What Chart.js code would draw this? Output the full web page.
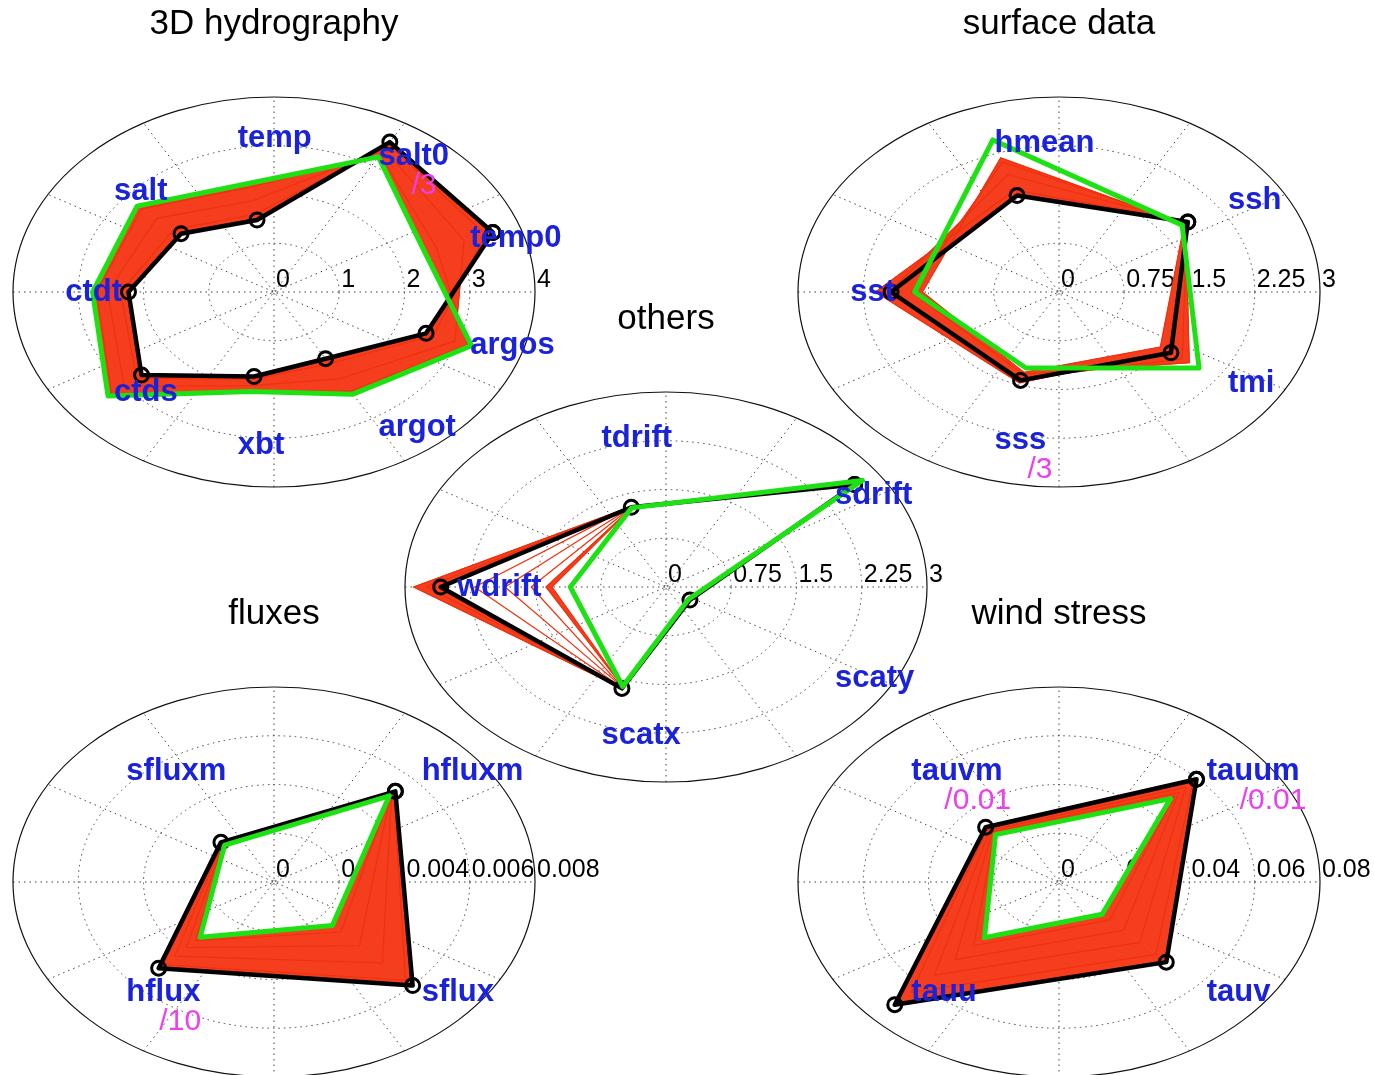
<!DOCTYPE html>
<html>
<head>
<meta charset="utf-8">
<script src="https://cdn.jsdelivr.net/npm/chart.js@4.4.0/dist/chart.umd.min.js"></script>
<style>
html, body { margin: 0; padding: 0; background: #fff; overflow: hidden; width: 1374px; height: 1075px; }
canvas { position: absolute; }
</style>
</head>
<body>
<canvas id="hydro"></canvas>
<canvas id="surface"></canvas>
<canvas id="fluxes"></canvas>
<canvas id="wind"></canvas>
<canvas id="others"></canvas>
<script>
// categories go counter-clockwise, the first one at 180/n degrees

// 3D hydrography
const hydroCats = ['temp0', 'salt0', 'temp', 'salt', 'ctdt', 'ctds', 'xbt', 'argot', 'argos'];
const hydroTicks = [0, 1, 2, 3, 4];
const hydroTickText = ['0', '1', '2', '3', '4'];
const hydroBlack = [3.57, 3.55, 1.50, 1.86, 2.23, 2.65, 1.76, 1.58, 2.48];
const hydroGreen = [2.45, 3.20, 2.26, 2.74, 2.78, 3.32, 2.07, 2.42, 3.22];
const hydroRed1 = [3.45, 3.50, 1.62, 2.00, 2.35, 2.75, 1.82, 1.70, 2.60];
const hydroRed2 = [3.10, 3.38, 1.90, 2.35, 2.55, 3.00, 1.95, 2.05, 2.95];
const hydroRed3 = [2.65, 3.25, 2.18, 2.65, 2.72, 3.25, 2.05, 2.35, 3.15];

// surface data
const surfCats = ['ssh', 'hmean', 'sst', 'sss', 'tmi'];
const surfTicks = [0, 0.75, 1.5, 2.25, 3];
const surfTickText = ['0', '0.75', '1.5', '2.25', '3'];
const surfBlack = [1.83, 1.56, 1.93, 1.43, 1.59];
const surfGreen = [1.75, 2.46, 1.66, 1.23, 1.99];
const surfRed1 = [1.85, 1.65, 2.11, 1.47, 1.55];
const surfRed2 = [1.82, 1.90, 1.95, 1.40, 1.75];
const surfRed3 = [1.80, 2.10, 1.70, 1.33, 1.85];
const surfRed4 = [1.78, 2.17, 1.57, 1.30, 1.44];

// others
const othCats = ['sdrift', 'tdrift', 'wdrift', 'scatx', 'scaty'];
const othTicks = [0, 0.75, 1.5, 2.25, 3];
const othTickText = ['0', '0.75', '1.5', '2.25', '3'];
const othBlack = [2.68, 1.29, 2.59, 1.64, 0.34];
const othGreen = [2.79, 1.28, 1.10, 1.61, 0.32];
const othRed1 = [2.70, 1.30, 2.90, 1.64, 0.34];
const othRed2 = [2.70, 1.30, 2.75, 1.63, 0.34];
const othRed3 = [2.69, 1.30, 2.20, 1.63, 0.34];
const othRed4 = [2.70, 1.29, 1.85, 1.62, 0.33];
const othRed5 = [2.71, 1.29, 1.55, 1.62, 0.33];
const othRed6 = [2.72, 1.28, 1.38, 1.61, 0.33];
const othRed7 = [2.72, 1.28, 1.31, 1.61, 0.33];

// fluxes
const fluxCats = ['hfluxm', 'sfluxm', 'hflux', 'sflux'];
const fluxTicks = [0, 0.002, 0.004, 0.006, 0.008];
const fluxTickText = ['0', '0.002', '0.004', '0.006', '0.008'];
const fluxBlack = [0.00526, 0.0023, 0.0050, 0.00601];
const fluxGreen = [0.0050, 0.00214, 0.0032, 0.00253];
const fluxRed1 = [0.0052, 0.00228, 0.0048, 0.0057];
const fluxRed2 = [0.0051, 0.00224, 0.0043, 0.0047];
const fluxRed3 = [0.00505, 0.0022, 0.0038, 0.0037];
const fluxRed4 = [0.00502, 0.00216, 0.0034, 0.0029];

// wind stress
const windCats = ['tauum', 'tauvm', 'tauu', 'tauv'];
const windTicks = [0, 0.02, 0.04, 0.06, 0.08];
const windTickText = ['0', '0.02', '0.04', '0.06', '0.08'];
const windBlack = [0.0596, 0.0318, 0.0712, 0.0465];
const windGreen = [0.0484, 0.0275, 0.0323, 0.0187];
const windRed1 = [0.058, 0.031, 0.064, 0.042];
const windRed2 = [0.055, 0.030, 0.054, 0.035];
const windRed3 = [0.052, 0.029, 0.045, 0.028];
const windRed4 = [0.050, 0.028, 0.037, 0.022];

const BLUE = 'rgb(26,34,218)';
const MAGENTA = 'rgb(236,64,236)';
const GREEN = 'rgb(30,225,20)';
const RED = 'rgb(240,48,12)';
const RED_FILL = 'rgb(244,62,30)';
const FONT = '"Liberation Sans", Arial, sans-serif';
const PAD = 100, RX = 261, RY = 195;

// values -> closed polygon in x/y data units
function polar(vals) {
    const n = vals.length;
    const pts = vals.map((r, k) => {
        const a = (2 * k + 1) * Math.PI / n;
        return {x: r * Math.cos(a), y: r * Math.sin(a)};
    });
    pts.push(pts[0]);
    return pts;
}

function polarPlugin(p) {
    return {
        id: 'polarGrid',
        beforeDatasetsDraw(chart) {
            const {ctx, scales: {x, y}} = chart;
            const cx = x.getPixelForValue(0), cy = y.getPixelForValue(0);
            const rmax = p.ticks[p.ticks.length - 1];
            const rx = x.getPixelForValue(rmax) - cx, ry = cy - y.getPixelForValue(rmax);
            ctx.save();
            // dotted spokes and circles
            ctx.strokeStyle = '#444';
            ctx.lineWidth = 1;
            ctx.setLineDash([1.5, 4]);
            for (let k = 0; k < 6; k++) {
                const a = k * Math.PI / 6;
                ctx.beginPath();
                ctx.moveTo(cx - rx * Math.cos(a), cy + ry * Math.sin(a));
                ctx.lineTo(cx + rx * Math.cos(a), cy - ry * Math.sin(a));
                ctx.stroke();
            }
            p.ticks.slice(1, -1).forEach(v => {
                ctx.beginPath();
                ctx.ellipse(cx, cy, x.getPixelForValue(v) - cx, cy - y.getPixelForValue(v), 0, 0, 2 * Math.PI);
                ctx.stroke();
            });
            ctx.setLineDash([]);
            ctx.strokeStyle = '#111';
            ctx.lineWidth = 1.2;
            ctx.beginPath();
            ctx.ellipse(cx, cy, rx, ry, 0, 0, 2 * Math.PI);
            ctx.stroke();

            // tick labels
            ctx.fillStyle = '#000';
            ctx.font = '25px ' + FONT;
            ctx.textAlign = 'left';
            ctx.textBaseline = 'alphabetic';
            p.ticks.forEach((v, i) => ctx.fillText(p.tickText[i], x.getPixelForValue(v) + 2, cy - 5));

            // red band between successive iterations
            ctx.fillStyle = RED_FILL;
            ctx.strokeStyle = RED_FILL;
            ctx.lineWidth = 0.8;
            p.bands.forEach(([a, b]) => {
                const A = polar(a).map(q => [x.getPixelForValue(q.x), y.getPixelForValue(q.y)]);
                const B = polar(b).map(q => [x.getPixelForValue(q.x), y.getPixelForValue(q.y)]);
                for (let k = 0; k < A.length - 1; k++) {
                    ctx.beginPath();
                    ctx.moveTo(A[k][0], A[k][1]);
                    ctx.lineTo(A[k + 1][0], A[k + 1][1]);
                    ctx.lineTo(B[k + 1][0], B[k + 1][1]);
                    ctx.lineTo(B[k][0], B[k][1]);
                    ctx.closePath();
                    ctx.fill();
                    ctx.stroke();
                }
            });
            ctx.restore();
        },
        afterDatasetsDraw(chart) {
            const {ctx, chartArea, scales: {x, y}} = chart;
            const n = p.cats.length;
            const rl = 0.8 * p.ticks[p.ticks.length - 1];
            ctx.save();
            ctx.textAlign = 'left';
            ctx.textBaseline = 'middle';
            p.cats.forEach((c, k) => {
                const a = (2 * k + 1) * Math.PI / n;
                const px = x.getPixelForValue(rl * Math.cos(a));
                const py = y.getPixelForValue(rl * Math.sin(a));
                ctx.font = 'bold 31px ' + FONT;
                ctx.fillStyle = BLUE;
                ctx.fillText(c, px, py);
                if (p.div[c]) {
                    ctx.font = '30px ' + FONT;
                    ctx.fillStyle = MAGENTA;
                    ctx.fillText(p.div[c], px + 33, py + 29);
                }
            });
            // title
            ctx.font = '35px ' + FONT;
            ctx.fillStyle = '#000';
            ctx.textAlign = 'center';
            ctx.fillText(p.title, x.getPixelForValue(0), chartArea.top - 73);
            ctx.restore();
        }
    };
}

function makePanel(id, p) {
    const cv = document.getElementById(id);
    cv.width = 2 * RX + 2 * PAD;
    cv.height = 2 * RY + 2 * PAD;
    cv.style.left = (p.cx - RX - PAD) + 'px';
    cv.style.top = (p.cy - RY - PAD) + 'px';
    const rmax = p.ticks[p.ticks.length - 1];

    // index 0 is drawn last, so green ends up on top
    const datasets = [
        {data: polar(p.green), borderColor: GREEN, borderWidth: 5, pointRadius: 0},
        {data: polar(p.black), borderColor: '#000', borderWidth: 4.5, pointRadius: 7,
         pointBorderWidth: 3, pointBorderColor: '#000', pointBackgroundColor: 'rgba(0,0,0,0)'}
    ];
    p.reds.forEach(r => datasets.push({data: polar(r), borderColor: RED, borderWidth: 1.2, pointRadius: 0}));
    datasets.forEach(d => {
        d.showLine = true;
        d.fill = false;
        d.borderJoinStyle = 'round';
        d.borderCapStyle = 'round';
    });

    new Chart(cv, {
        type: 'scatter',
        data: {datasets},
        options: {
            responsive: false,
            animation: false,
            events: [],
            devicePixelRatio: 1,
            layout: {padding: PAD},
            scales: {
                x: {display: false, min: -rmax, max: rmax},
                y: {display: false, min: -rmax, max: rmax}
            },
            plugins: {legend: {display: false}, tooltip: {enabled: false}},
            elements: {line: {tension: 0}}
        },
        plugins: [polarPlugin(p)]
    });
}

makePanel('hydro', {
    title: '3D hydrography', cx: 274, cy: 292,
    cats: hydroCats, ticks: hydroTicks, tickText: hydroTickText, div: {salt0: '/3'},
    black: hydroBlack, green: hydroGreen, reds: [hydroRed1, hydroRed2, hydroRed3],
    bands: [[hydroBlack, hydroRed1], [hydroRed1, hydroRed2], [hydroRed2, hydroRed3], [hydroRed3, hydroGreen]]
});
makePanel('surface', {
    title: 'surface data', cx: 1059, cy: 292,
    cats: surfCats, ticks: surfTicks, tickText: surfTickText, div: {sss: '/3'},
    black: surfBlack, green: surfGreen, reds: [surfRed1, surfRed2, surfRed3, surfRed4],
    bands: [[surfBlack, surfRed1], [surfRed1, surfRed2], [surfRed2, surfRed3], [surfRed3, surfRed4]]
});
makePanel('fluxes', {
    title: 'fluxes', cx: 274, cy: 882,
    cats: fluxCats, ticks: fluxTicks, tickText: fluxTickText, div: {hflux: '/10'},
    black: fluxBlack, green: fluxGreen, reds: [fluxRed1, fluxRed2, fluxRed3, fluxRed4],
    bands: [[fluxBlack, fluxRed1], [fluxRed1, fluxRed2], [fluxRed2, fluxRed3], [fluxRed3, fluxRed4], [fluxRed4, fluxGreen]]
});
makePanel('wind', {
    title: 'wind stress', cx: 1059, cy: 882,
    cats: windCats, ticks: windTicks, tickText: windTickText, div: {tauum: '/0.01', tauvm: '/0.01'},
    black: windBlack, green: windGreen, reds: [windRed1, windRed2, windRed3, windRed4],
    bands: [[windBlack, windRed1], [windRed1, windRed2], [windRed2, windRed3], [windRed3, windRed4], [windRed4, windGreen]]
});
makePanel('others', {
    title: 'others', cx: 666, cy: 587,
    cats: othCats, ticks: othTicks, tickText: othTickText, div: {},
    black: othBlack, green: othGreen,
    reds: [othRed1, othRed2, othRed3, othRed4, othRed5, othRed6, othRed7],
    bands: [[othBlack, othRed1], [othRed1, othRed2], [othRed6, othRed7]]
});
</script>
</body>
</html>
